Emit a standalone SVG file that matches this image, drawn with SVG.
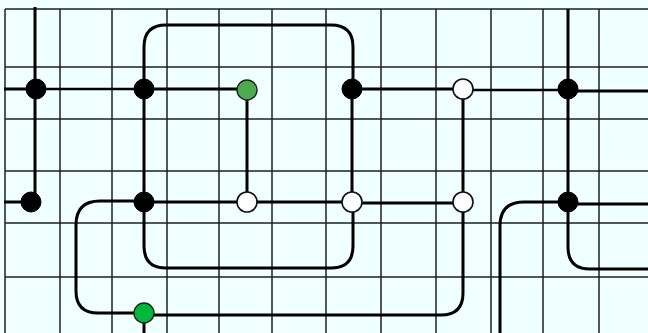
<svg xmlns="http://www.w3.org/2000/svg" width="648" height="333" viewBox="0 0 648 333">
<style>
.grid line{stroke:#1c2020;stroke-width:1.5}
.conn path{fill:none;stroke:#000;stroke-width:3;stroke-linecap:butt}
.blk{fill:#000;stroke:#000;stroke-width:1}
.wht{fill:#fff;stroke:#111;stroke-width:1.6}
</style>
<rect width="648" height="333" fill="#f0ffff"/>
<g class="grid">
<line x1="5" y1="9" x2="5" y2="333"/>
<line x1="60" y1="9" x2="60" y2="333"/>
<line x1="112" y1="9" x2="112" y2="333"/>
<line x1="167" y1="9" x2="167" y2="333"/>
<line x1="219" y1="9" x2="219" y2="333"/>
<line x1="272" y1="9" x2="272" y2="333"/>
<line x1="326" y1="9" x2="326" y2="333"/>
<line x1="381" y1="9" x2="381" y2="333"/>
<line x1="436" y1="9" x2="436" y2="333"/>
<line x1="491" y1="9" x2="491" y2="333"/>
<line x1="543" y1="9" x2="543" y2="333"/>
<line x1="599" y1="9" x2="599" y2="333"/>
<line x1="5" y1="9" x2="648" y2="9"/>
<line x1="5" y1="67" x2="648" y2="67"/>
<line x1="5" y1="119" x2="648" y2="119"/>
<line x1="5" y1="171" x2="648" y2="171"/>
<line x1="5" y1="223" x2="648" y2="223"/>
<line x1="5" y1="277" x2="648" y2="277"/>
</g>
<g class="conn">
<path d="M35,7 V202"/>
<path d="M4,89 H36" />
<path d="M36,89 H144" style="stroke-width:2.6"/>
<path d="M144,89 H247"/>
<path d="M144,89 V47 Q144,25 166,25 H331 Q353,25 353,47 V89"/>
<path d="M144,89 V202"/>
<path d="M247,90 V202"/>
<path d="M352,89 H463"/>
<path d="M463,90 H568" style="stroke-width:2.6"/>
<path d="M568,91 H648"/>
<path d="M352,89 V202"/>
<path d="M463,89 V202"/>
<path d="M568,9 V202"/>
<path d="M4,202 H31"/>
<path d="M144,202 H352"/>
<path d="M352,203 H463"/>
<path d="M144,201 H100 Q76,201 76,225 V291 Q76,313 98,313 H144"/>
<path d="M144,313 V333"/>
<path d="M144,315 H441 Q463,315 463,293 V202"/>
<path d="M144,202 V246 Q144,268 166,268 H331 Q353,268 353,246 V202"/>
<path d="M568,202 H524 Q500,202 500,226 V333"/>
<path d="M568,202 V247 Q568,269 590,269 H648"/>
<path d="M568,204 H648"/>
</g>
<g id="n1"><circle class="blk" cx="36" cy="89" r="10"/></g>
<g id="n2"><circle class="blk" cx="144" cy="89" r="10"/></g>
<g id="n3"><circle cx="247" cy="90" r="10" fill="#4cab4c" stroke="#222" stroke-width="1.4"/></g>
<g id="n4"><circle class="blk" cx="352" cy="89" r="10"/></g>
<g id="n5"><circle class="wht" cx="463" cy="89" r="10"/></g>
<g id="n6"><circle class="blk" cx="568" cy="89" r="10"/></g>
<g id="n7"><circle class="blk" cx="31" cy="202" r="10"/></g>
<g id="n8"><circle class="blk" cx="144" cy="202" r="10"/></g>
<g id="n9"><circle class="wht" cx="247" cy="202" r="10"/></g>
<g id="n10"><circle class="wht" cx="352" cy="202" r="10"/></g>
<g id="n11"><circle class="wht" cx="463" cy="202" r="10"/></g>
<g id="n12"><circle class="blk" cx="568" cy="202" r="10"/></g>
<g id="n13"><circle cx="144" cy="313" r="10" fill="#00b83c" stroke="#222" stroke-width="1.4"/></g>
</svg>
